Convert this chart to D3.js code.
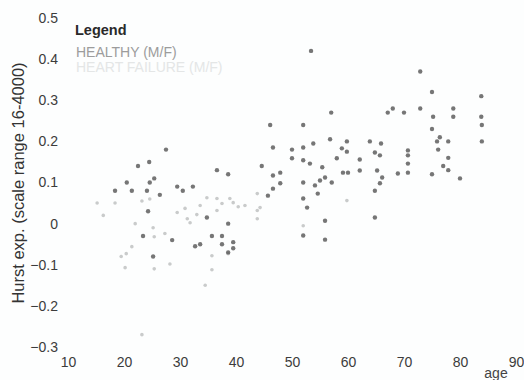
<!DOCTYPE html>
<html>
<head>
<meta charset="utf-8">
<script src="https://cdn.jsdelivr.net/npm/d3@7"></script>
<style>
  html, body { margin: 0; padding: 0; background: #fdfefe; }
  svg { display: block; font-family: Arial, "Liberation Sans", Helvetica, sans-serif; }
</style>
</head>
<body>
<svg id="chart" width="524" height="380"></svg>
<script>
// Healthy subjects: age and Hurst exponent
const healthyAge = [53.4,72.9,75.0,83.8,46.1,52.0,83.9,57.0,67.1,68.0,70.0,72.9,75.2,78.8,78.8,83.8,
  75.0,75.9,76.4,77.9,76.1,77.9,77.0,77.9,75.0,80.0,83.9,
  27.5,22.5,24.5,25.4,24.6,20.5,21.4,18.4,24.1,26.4,29.5,30.5,32.3,
  24.3,23.4,28.6,25.2,
  36.6,38.6,34.8,38.6,35.7,37.5,37.5,39.5,39.5,32.7,33.6,38.6,
  44.6,46.6,50.0,52.0,53.8,56.8,59.8,58.9,59.8,63.9,65.9,64.8,65.7,
  70.7,70.7,70.7,70.7,68.9,
  46.6,47.9,47.9,46.6,45.7,
  52.0,53.2,52.0,54.1,55.0,54.6,52.0,52.7,55.9,57.1,58.0,59.1,60.0,62.1,62.1,65.2,66.1,65.7,64.8,64.8,
  52.0,55.9,55.9,50.0,55.4];
const healthyHurst = [0.42,0.37,0.32,0.31,0.24,0.24,0.24,0.27,0.27,0.28,0.27,0.28,0.26,0.28,0.26,0.26,
  0.23,0.20,0.21,0.20,0.18,0.16,0.14,0.13,0.12,0.11,0.20,
  0.18,0.14,0.15,0.11,0.10,0.10,0.08,0.08,0.08,0.07,0.09,0.08,0.09,
  0.03,-0.03,-0.04,-0.08,
  0.13,0.12,0.015,0.0,-0.03,-0.03,-0.05,-0.045,-0.06,-0.055,-0.05,-0.07,
  0.14,0.185,0.18,0.185,0.195,0.205,0.2,0.183,0.175,0.2,0.195,0.173,0.166,
  0.178,0.166,0.146,0.124,0.122,
  0.117,0.124,0.098,0.085,0.068,
  0.154,0.146,0.10,0.093,0.105,0.073,0.061,0.039,0.112,0.10,0.159,0.124,0.124,0.156,0.129,0.129,0.112,0.098,0.080,0.015,
  -0.029,0.007,-0.039,0.159,0.137];

// Second group: age and Hurst exponent
const otherAge = [15.2,16.3,18.4,23.2,24.6,29.5,25.2,25.4,27.3,21.4,20.4,25.4,20.2,28.2,35.7,35.7,38.6,
  34.8,36.6,38.9,39.5,41.6,36.6,31.3,43.8,43.8,43.8,52.0,59.8,44.3,23.2,34.5,33.6,37.5,40.4,31.8,33.0,30.9,22.0,19.5];
const otherHurst = [0.05,0.02,0.05,0.055,0.06,0.027,-0.01,-0.032,-0.024,-0.056,-0.073,-0.11,-0.107,-0.098,-0.078,-0.112,-0.073,
  0.063,0.061,0.061,0.051,0.044,0.032,0.012,0.032,0.012,0.073,-0.005,0.056,0.039,-0.27,-0.15,0.044,0.049,0.041,0.002,0.022,0.037,0.0,-0.08];

const xTicks = [10, 20, 30, 40, 50, 60, 70, 80, 90];
const yTicks = [-0.3, -0.2, -0.1, 0, 0.1, 0.2, 0.3, 0.4, 0.5];
const legendTitle = "Legend";
const legendLabels = ["HEALTHY (M/F)", "HEART FAILURE (M/F)"];
const xTitle = "age";
const yTitle = "Hurst exp. (scale range 16-4000)";

const svg = d3.select("#chart");
const x = d3.scaleLinear().domain([10, 90]).range([68, 516]);
const y = d3.scaleLinear().domain([-0.3, 0.5]).range([347, 18]);

// axes: labels only, no lines
const yAxis = svg.append("g")
  .attr("transform", "translate(58,0)")
  .call(d3.axisLeft(y).tickValues(yTicks).tickSize(0).tickPadding(0)
    .tickFormat(d => d === 0 ? "0" : d3.format(".1f")(d)));
const xAxis = svg.append("g")
  .attr("transform", "translate(0,355)")
  .call(d3.axisBottom(x).tickValues(xTicks).tickSize(0).tickPadding(2));
[yAxis, xAxis].forEach(g => {
  g.select(".domain").remove();
  g.selectAll("text").attr("fill", "#3c3c3c").style("font-size", "14px")
    .style("font-family", "Arial, 'Liberation Sans', sans-serif");
});

svg.append("text")
  .attr("transform", "translate(24,183) rotate(-90)")
  .attr("text-anchor", "middle")
  .attr("fill", "#333")
  .style("font-size", "16.5px")
  .text(yTitle);

svg.append("text")
  .attr("x", 496).attr("y", 378)
  .attr("text-anchor", "middle")
  .attr("fill", "#444")
  .style("font-size", "14px")
  .text(xTitle);

// legend
svg.append("text")
  .attr("x", 75).attr("y", 35)
  .attr("fill", "#2a2a2a")
  .style("font-size", "14.5px").style("font-weight", "bold")
  .text(legendTitle);
svg.selectAll(".leg").data(legendLabels).enter().append("text")
  .attr("class", "leg")
  .attr("x", 76).attr("y", (d, i) => 57 + i * 15)
  .attr("fill", (d, i) => i === 0 ? "#9c9c9c" : "#e4e6e6")
  .style("font-size", "14px")
  .text(d => d);

// points
const other = otherAge.map((a, i) => ({ a, h: otherHurst[i] }));
const healthy = healthyAge.map((a, i) => ({ a, h: healthyHurst[i] }));

svg.append("g").selectAll("circle").data(other).enter().append("circle")
  .attr("cx", d => x(d.a)).attr("cy", d => y(d.h))
  .attr("r", 1.8).attr("fill", "#c9cbcb");

svg.append("g").selectAll("circle").data(healthy).enter().append("circle")
  .attr("cx", d => x(d.a)).attr("cy", d => y(d.h))
  .attr("r", 2.2).attr("fill", "#5e5e5e").attr("fill-opacity", 0.85);
</script>
</body>
</html>
